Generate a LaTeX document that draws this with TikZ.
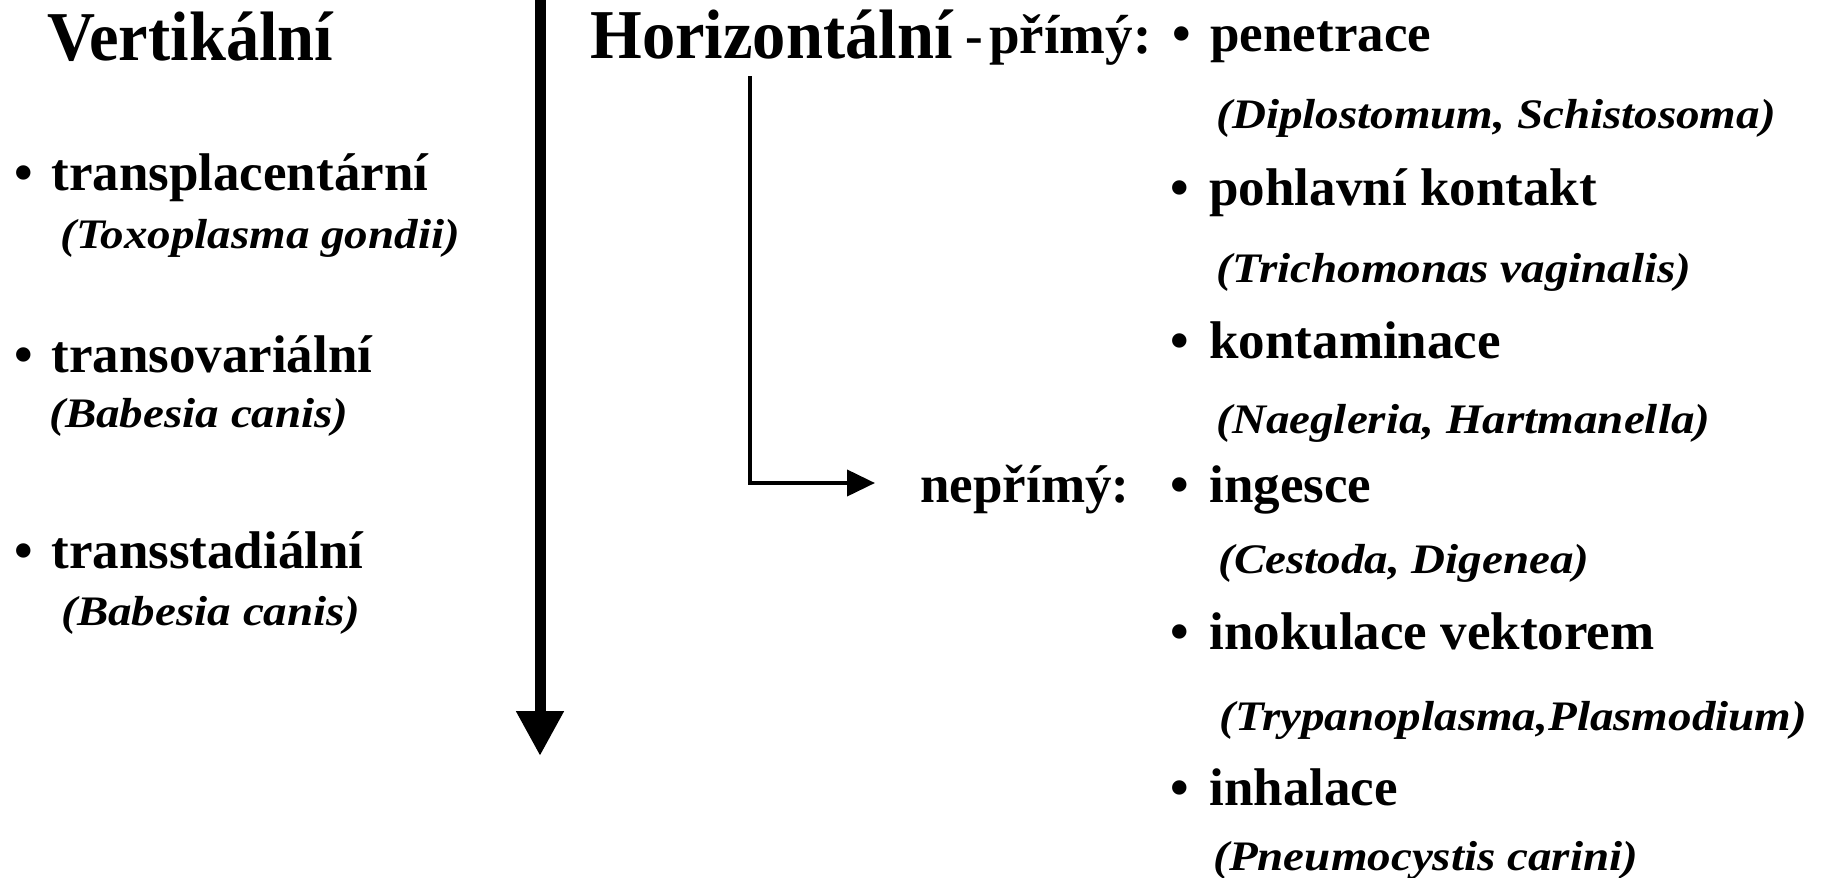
\documentclass[tikz,border=0pt]{standalone}
\usepackage{fontspec}
\setmainfont{Liberation Serif}
\newfontfamily\headfont[FakeStretch=0.95]{Liberation Serif}
\newfontfamily\itfont[FakeStretch=1.12]{Liberation Serif}
\usetikzlibrary{arrows.meta}
\tikzset{
 headtxt/.style={anchor=base west, inner sep=0pt, font=\headfont\bfseries\fontsize{35pt}{40pt}\selectfont},
 boldtxt/.style={anchor=base west, inner sep=0pt, font=\bfseries\fontsize{26.5pt}{30pt}\selectfont},
 bigbold/.style={anchor=base west, inner sep=0pt, font=\bfseries\fontsize{27.5pt}{32pt}\selectfont},
 ittxt/.style={anchor=base west, inner sep=0pt, font=\itfont\bfseries\itshape\fontsize{21pt}{24pt}\selectfont},
 bul/.style={anchor=base, inner sep=0pt, font=\bfseries\fontsize{26.5pt}{30pt}\selectfont},
 thickarrow/.style={line width=5.5pt, -{Triangle[length=22.5pt,width=22.5pt]}},
 thinarrow/.style={line width=2pt, -{Triangle[length=14pt,width=13pt]}}
}
\begin{document}
\begin{tikzpicture}[x=0.5pt,y=-0.5pt]
\fill[white] (0,0) rectangle (1831,878);
\useasboundingbox (0,0) rectangle (1831,878);

% left column
\node[headtxt] (vert) at (47,60) {Vertikální};
\node[bul] (lb1) at (24,190) {•};
\node[boldtxt] (tp) at (51,190) {transplacentární};
\node[ittxt] (tpx) at (60,248) {(Toxoplasma gondii)};
\node[bul] (lb2) at (24,372) {•};
\node[boldtxt] (tov) at (51,372) {transovariální};
\node[ittxt] (tovx) at (49,427) {(Babesia canis)};
\node[bul] (lb3) at (24,568) {•};
\node[boldtxt] (tst) at (51,568) {transstadiální};
\node[ittxt] (tstx) at (61,625) {(Babesia canis)};

% main vertical arrow
\coordinate (vtop) at (540,-5);
\coordinate (vend) at (540,756);
\draw[thickarrow] (vtop) -- (vend);

% horizontal heading
\node[headtxt] (hor) at (590,58) {Horizontální};
\node[boldtxt] (dash) at (965,54) {-};
\node[bigbold] (prim) at (989,54) {přímý:};
\node[boldtxt] (nep) at (920,502) {nepřímý:};

% connector přímý -> nepřímý
\coordinate (hstart) at (750,76);
\coordinate (hend) at (875,483);
\draw[thinarrow] (hstart) |- (hend);

% right column
\node[bul] (rb1) at (1182,51) {•};
\node[boldtxt] (pen) at (1210,51) {penetrace};
\node[ittxt] (penx) at (1216,128) {(Diplostomum, Schistosoma)};
\node[bul] (rb2) at (1180,205) {•};
\node[boldtxt] (poh) at (1209,205) {pohlavní kontakt};
\node[ittxt] (pohx) at (1216,282) {(Trichomonas vaginalis)};
\node[bul] (rb3) at (1180,358) {•};
\node[boldtxt] (kon) at (1209,358) {kontaminace};
\node[ittxt] (konx) at (1216,433) {(Naegleria, Hartmanella)};
\node[bul] (rb4) at (1180,502) {•};
\node[boldtxt] (ing) at (1209,502) {ingesce};
\node[ittxt] (ingx) at (1218,573) {(Cestoda, Digenea)};
\node[bul] (rb5) at (1180,649) {•};
\node[boldtxt] (ino) at (1209,649) {inokulace vektorem};
\node[ittxt] (inox) at (1219,730) {(Trypanoplasma,Plasmodium)};
\node[bul] (rb6) at (1180,805) {•};
\node[boldtxt] (inh) at (1209,805) {inhalace};
\node[ittxt] (inhx) at (1213,870) {(Pneumocystis carini)};
\end{tikzpicture}
\end{document}
